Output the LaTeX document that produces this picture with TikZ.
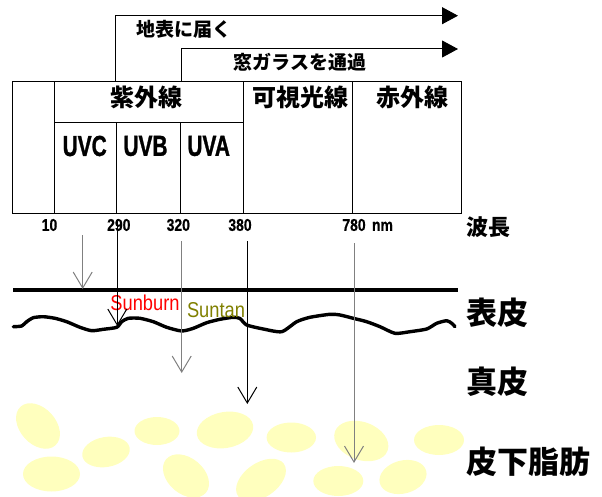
\documentclass[tikz,border=0pt]{standalone}
\usepackage{fontspec}
\setmainfont{Noto Sans CJK JP}
\newfontfamily\halffont[FakeStretch=0.85]{Liberation Sans}
\newfontfamily\halfbold[FakeStretch=0.82, FakeBold=0.6]{Liberation Sans Bold}
\newfontfamily\uvfont[FakeStretch=0.72, FakeBold=1]{Liberation Sans Bold}
\usetikzlibrary{arrows.meta}
\definecolor{fatyellow}{RGB}{255,255,190}
\definecolor{tanolive}{RGB}{128,128,0}
\newcommand\pxsize[1]{\fontsize{#1}{#1}\selectfont}
\tikzset{
  boxline/.style={draw=black, line width=1pt},
  band/.style={font=\pxsize{24}\bfseries, inner sep=0pt},
  uvband/.style={font=\uvfont\pxsize{29}, inner sep=0pt},
  reach/.style={-{Triangle[length=16pt,width=17pt]}, line width=1pt},
  reachlabel/.style={font=\pxsize{19}\bfseries, inner sep=0pt},
  wavelen/.style={font=\halfbold\pxsize{17}, inner sep=0pt},
  layer/.style={font=\pxsize{31}\bfseries, anchor=west, inner sep=0pt},
  ray/.style={-{Straight Barb[length=16pt,width=19pt]}, line width=1pt},
  effect/.style={font=\halffont\pxsize{21.5}, inner sep=0pt},
  fat/.style={fill=fatyellow}
}

\begin{document}
\begin{tikzpicture}[x=1pt, y=-1pt]
\useasboundingbox (0,0) rectangle (602,497);

% subcutaneous fat cells
\foreach \cx/\cy/\rx/\ry/\ang in {
  38/426/26/18/-48, 106/452/24/15/10, 157/431/22.5/14/0,
  225/430/28.5/18/10, 51.5/474/28.5/17.5/0, 186/476/26/18/-40,
  261/480/28/17/35, 291.3/437.5/24.7/15/0, 361.3/441/28/19/-20,
  439/440/25/15/0, 338.3/481/25/15/0, 403/477/24/16.5/15}
  \fill[fat, rotate around={\ang:(\cx,\cy)}] (\cx,\cy) ellipse [x radius=\rx, y radius=\ry];

% spectrum table
\draw[boxline] (12.7,81.7) rectangle (461,213.3);
\foreach \xx in {54,243.3,352.3}
  \draw[boxline] (\xx,81.7) -- (\xx,213.3);
\draw[boxline] (54,122.3) -- (243.3,122.3);
\foreach \xx in {116.7,180.7}
  \draw[boxline] (\xx,122.3) -- (\xx,213.3);

\node[band] (uv) at (146.7,97.7) {紫外線};
\node[band] (vis) at (300,97.7) {可視光線};
\node[band] (ir) at (412,97.7) {赤外線};
\foreach \name/\xx in {UVC/84.7, UVB/145.5, UVA/208.7}
  \node[uvband] (\name) at (\xx,146) {\name};

% how far each band gets
\coordinate (earthL) at (115.7,81.7);
\coordinate (earthR) at (458,15.7);
\coordinate (glassL) at (181,81.7);
\coordinate (glassR) at (458,49);
\draw[reach] (earthL) |- (earthR);
\draw[reach] (glassL) |- (glassR);
\node[reachlabel] (earth) at (184,29.3) {地表に届く};
\node[reachlabel] (glass) at (300,62.7) {窓ガラスを通過};

% wavelength scale
\foreach \v/\xx in {10/49.5, 290/118.8, 320/178.3, 380/240, 780/354}
  \node[wavelen] (wl\v) at (\xx,225) {\v};
\node[wavelen, anchor=base west] (nm) at ([xshift=6pt]wl780.base east) {nm};
\node[layer, font=\pxsize{22}\bfseries] (lambda) at (466,226.7) {波長};

% skin
\coordinate (skinL) at (13.3,290);
\coordinate (skinR) at (457.7,290);
\draw[line width=4pt] (skinL) -- (skinR);
\draw[line width=3.4pt, line join=round, line cap=round] plot[smooth, tension=0.4] coordinates {
  (13.3,326.7) (21.7,326) (26.7,321.7) (33.3,317.7) (43.3,316.7) (55,318.3)
  (66.7,321.7) (80,327.3) (91.7,330.7) (103.3,329.3) (116.7,327.3) (121.7,321.7)
  (128.3,318.3) (140,318.3) (153.3,321.7) (166.7,327.3) (181.7,331) (193.3,328.3)
  (206.7,322.7) (220,319.3) (233.3,317.3) (240,318.5) (246.7,325) (263.3,329)
  (281.7,331.7) (296.7,321.7) (310,317.3) (330,314.3) (340,315) (353.3,318.3)
  (366.7,321.7) (380,326.7) (395,333.3) (410,331.7) (426.7,329) (436.7,323.3)
  (446.7,320.7) (451.7,323.3) (455,326.7)};

\node[effect, text=red] (burn) at (145,302.5) {Sunburn};
\node[effect, text=tanolive] (tan) at (216,310.5) {Suntan};

\node[layer] (epi) at (466,313) {表皮};
\node[layer] (derm) at (466,381.5) {真皮};
\node[layer] (subcut) at (466,462) {皮下脂肪};

% penetration depth
\foreach \id/\xx/\top/\tip/\col in {
  c/82.7/235/289/gray, b/117.3/219/326/black, a/181.7/241/373/gray,
  v/247.3/241/404/black, r/354/243/463/gray}{
  \coordinate (ray\id) at (\xx,\top);
  \coordinate (hit\id) at (\xx,\tip);
  \draw[ray, draw=\col] (ray\id) -- (hit\id);
}
\end{tikzpicture}
\end{document}
